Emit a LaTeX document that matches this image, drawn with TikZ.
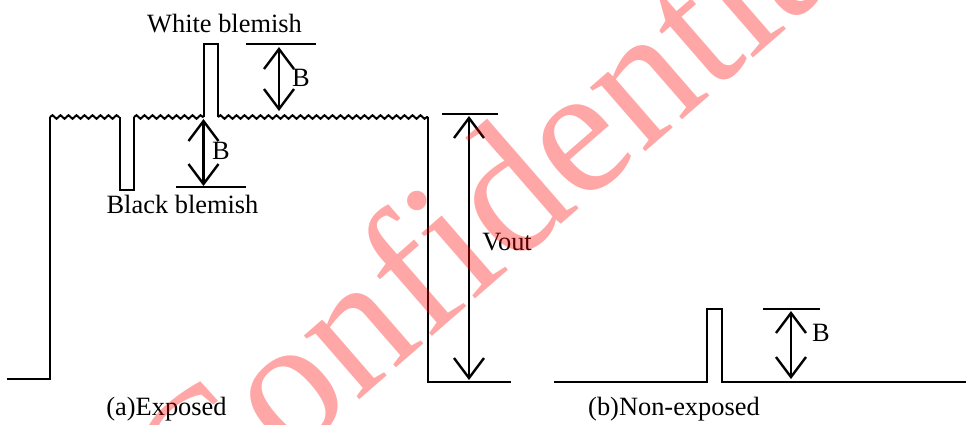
\documentclass[tikz,border=0pt]{standalone}
\usepackage{fontspec}
\setmainfont{Liberation Serif}
\usetikzlibrary{arrows.meta,decorations.pathmorphing}
\tikzset{
  signal/.style={line width=1pt},
  noisy/.style={decorate,decoration={snake,amplitude=0.9pt,segment length=4pt}},
  levelmark/.style={line width=1pt},
  levelarrow/.style={line width=1.2pt,
    {Straight Barb[length=10pt,width=15pt]}-{Straight Barb[length=10pt,width=15pt]}},
  lbl/.style={font=\fontsize{13.2}{15}\selectfont,inner sep=0pt,anchor=base},
  stamp/.style={rotate=41,text=red,text opacity=0.35,
    font=\fontsize{92}{92}\selectfont,inner sep=0pt}
}
\begin{document}
\begin{tikzpicture}[x=0.5pt,y=-0.5pt]
    \useasboundingbox (0,0) rectangle (966,424);
    \def\top{117}
    \def\base{382}

    % (a) exposed: noisy level with two blemishes
    \draw[signal] (7,379) -- (50,379) -- (50,\top);
    \draw[signal,noisy] (50,\top) -- (119.5,\top);
    \draw[signal] (119.5,\top) |- (134,190) -- (134,\top);
    \draw[signal,noisy] (134,\top) -- (203.5,\top);
    \draw[signal] (203.5,\top) |- (218,44) -- (218,\top);
    \draw[signal,noisy] (218,\top) -- (428,\top);
    \draw[signal] (428,\top) |- (511,\base);

    % level marks
    \coordinate (wtop) at (279,47);
    \coordinate (wbot) at (279,111);
    \draw[levelmark] (246,44) -- (316,44);
    \draw[levelarrow] (wtop) -- (wbot);

    \coordinate (ktop) at (203.5,119);
    \coordinate (kbot) at (203.5,186);
    \draw[levelmark] (176,187) -- (246,187);
    \draw[levelarrow] (ktop) -- (kbot);

    \coordinate (vtop) at (469,116);
    \coordinate (vbot) at (469,380);
    \draw[levelmark] (442,114) -- (498,114);
    \draw[levelarrow] (vtop) -- (vbot);

    % (b) non-exposed
    \draw[signal] (554,\base) -- (707,\base) |- (722,309) -- (722,\base) -- (966,\base);
    \coordinate (ntop) at (791,311);
    \coordinate (nbot) at (791,379);
    \draw[levelmark] (763,309) -- (820,309);
    \draw[levelarrow] (ntop) -- (nbot);

    % labels
    \node[lbl] (white) at (224.5,32) {White blemish};
    \node[lbl] (black) at (182.5,213) {Black blemish};
    \node[lbl] (bw) at (301,86) {B};
    \node[lbl] (bk) at (221,159) {B};
    \node[lbl,anchor=base west] (vout) at (482,250) {Vout};
    \node[lbl] (bn) at (821,341) {B};
    \node[lbl] (capa) at (166.5,415) {(a)Exposed};
    \node[lbl] (capb) at (674,415) {(b)Non-exposed};

    \node[stamp] (mark) at (500,193) {Confidential};
\end{tikzpicture}
\end{document}
